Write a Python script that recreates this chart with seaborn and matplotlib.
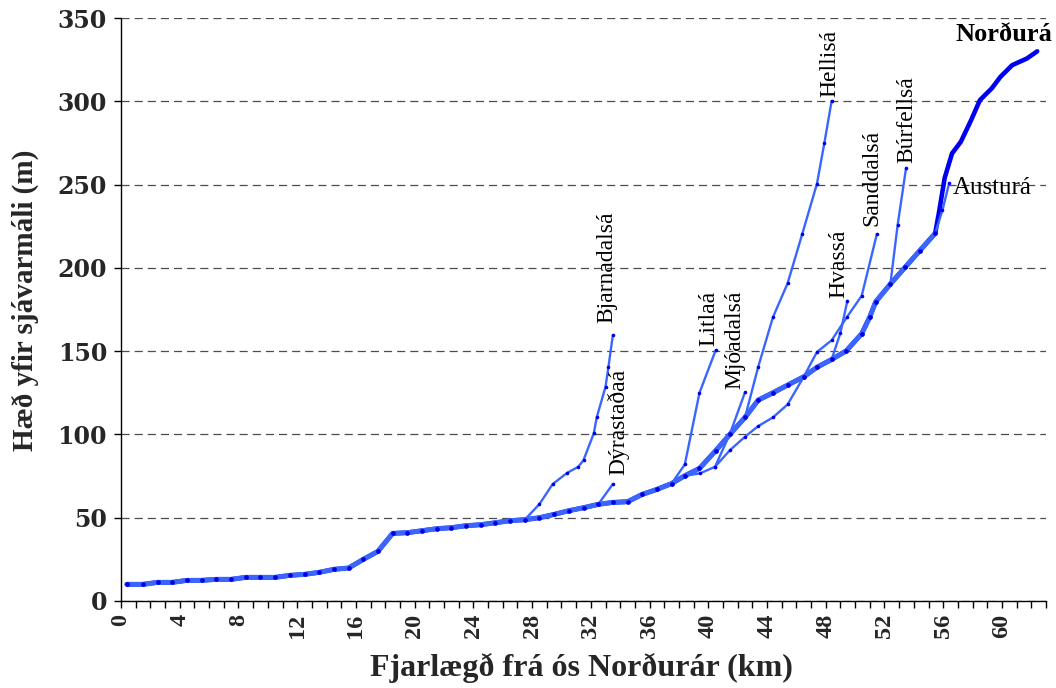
import matplotlib
matplotlib.use("Agg")
import matplotlib.pyplot as plt
import pandas as pd
import seaborn as sns

# Elevation profile of the main river (km from the mouth, metres above sea level)
nordura_km = [0.4, 1.5, 2.5, 3.5, 4.5, 5.5, 6.5, 7.5, 8.5, 9.5, 10.5, 11.5, 12.5, 13.5,
              14.5, 15.5, 16.5, 17.5, 18.5, 19.5, 20.5, 21.5, 22.5, 23.5, 24.5, 25.5,
              26.5, 27.5, 28.5, 29.5, 30.5, 31.5, 32.5, 33.5, 34.5, 35.5, 36.5, 37.5,
              38.4, 39.4, 40.5, 41.5, 42.5, 43.4, 44.4, 45.4, 46.5, 47.4, 48.4, 49.4,
              50.45, 51.0, 51.4, 52.4, 53.4, 54.4, 55.45, 55.7, 56.1, 56.6, 57.2, 57.9,
              58.5, 59.3, 59.9, 60.7, 61.7, 62.4]
nordura_m = [10, 10, 11.2, 11.2, 12.4, 12.4, 13, 13, 14.2, 14.2, 14.2, 15.4, 16, 17.2,
             19, 19.8, 25, 29.8, 40.6, 41, 42.2, 43.4, 44, 45.2, 45.8, 47,
             48.2, 48.8, 50, 52, 54.2, 56, 58, 59.2, 59.6, 64, 67, 70.5,
             75.2, 79.6, 90.2, 100.4, 110.2, 120.6, 125, 129.6, 134.6, 140.3, 145, 150.2,
             160.5, 170.6, 179.6, 190.3, 200.3, 210.3, 220.7, 232.7, 254, 268.7, 275.7, 288.7,
             300.7, 307.7, 314.7, 321.7, 325.7, 330]

# Tributaries, each starting at its confluence
bjarnadalsa_km = [27.5, 28.5, 29.4, 30.4, 31.15, 31.5, 32.2, 32.4, 33.0, 33.2, 33.5]
bjarnadalsa_m = [48.8, 58.2, 70.2, 77, 80.6, 84.6, 100.6, 110.2, 128.6, 140.6, 159.7]

dyrastadaa_km = [32.5, 33.5]
dyrastadaa_m = [58, 70.2]

litlaa_km = [37.5, 38.4, 39.4, 40.5]
litlaa_m = [70.5, 82, 125, 150.5]

sanddalsa_km = [38.4, 39.44, 40.46, 41.48, 42.5, 43.4, 44.4, 45.4, 46.5, 47.4, 48.4,
                49.43, 50.45, 51.48]
sanddalsa_m = [75.2, 76.6, 80.6, 90.6, 98.6, 105, 110.2, 118, 134.6, 149.5, 156.5,
               170.3, 183.3, 220.3]

mjoadalsa_km = [40.46, 41.48, 42.5]
mjoadalsa_m = [80.6, 100.5, 125.3]

hellisa_km = [42.5, 43.4, 44.4, 45.4, 46.4, 47.4, 47.9, 48.4]
hellisa_m = [110.2, 140.6, 170.3, 190.7, 220.4, 250.5, 274.7, 300.2]

hvassa_km = [48.4, 49.0, 49.47]
hvassa_m = [145, 161, 180.2]

burfellsa_km = [52.4, 52.9, 53.47]
burfellsa_m = [190.3, 226, 260]

austura_km = [55.45, 55.95, 56.4]
austura_m = [220.7, 234.7, 250.7]

tributary_names = ["Bjarnadalsá", "Dýrastaðaá", "Litlaá", "Mjóadalsá", "Hellisá",
                   "Hvassá", "Sanddalsá", "Búrfellsá", "Austurá"]

x_ticks = list(range(0, 64))
x_tick_labels = [str(v) if v % 4 == 0 else "" for v in x_ticks]
y_ticks = [0, 50, 100, 150, 200, 250, 300, 350]

# ---------------------------------------------------------------------------
sns.set_theme(style="white")
plt.rcParams["font.family"] = ["Liberation Serif", "DejaVu Serif"]

LIGHT = "#3a66ff"
DARK = "#0000f0"
DOT = "#0000e6"

main = pd.DataFrame({"km": nordura_km, "m": nordura_m})
tribs = {
    "Bjarnadalsá": (bjarnadalsa_km, bjarnadalsa_m),
    "Dýrastaðaá": (dyrastadaa_km, dyrastadaa_m),
    "Litlaá": (litlaa_km, litlaa_m),
    "Mjóadalsá": (mjoadalsa_km, mjoadalsa_m),
    "Hellisá": (hellisa_km, hellisa_m),
    "Hvassá": (hvassa_km, hvassa_m),
    "Sanddalsá": (sanddalsa_km, sanddalsa_m),
    "Búrfellsá": (burfellsa_km, burfellsa_m),
    "Austurá": (austura_km, austura_m),
}

# label placement relative to each river's upper end (pixels)
label_style = {
    "Bjarnadalsá": dict(dx=-6, dy=12, rot=90),
    "Dýrastaðaá": dict(dx=5, dy=9, rot=90),
    "Litlaá": dict(dx=-7, dy=4, rot=90),
    "Mjóadalsá": dict(dx=-10, dy=3, rot=90),
    "Hellisá": dict(dx=-2, dy=4, rot=90),
    "Hvassá": dict(dx=-8, dy=3, rot=90),
    "Sanddalsá": dict(dx=-5, dy=8, rot=90),
    "Búrfellsá": dict(dx=1, dy=5, rot=90),
    "Austurá": dict(dx=4, dy=-5, rot=0),
}

fig = plt.figure(figsize=(10.56, 6.88), dpi=100)
ax = fig.add_axes([121 / 1056, 87 / 688, 925 / 1056, 583 / 688])

# grid first so the profiles sit above it
ax.set_axisbelow(True)
ax.yaxis.grid(True, color="#4d4d4d", linestyle=(0, (6.5, 4)), linewidth=0.9)

# full main stem (upper reach shows in the darker colour)
sns.lineplot(data=main, x="km", y="m", ax=ax, color=DARK, linewidth=3.3,
             estimator=None, sort=False, zorder=3)

# tributaries
for name in tributary_names:
    km, m = tribs[name]
    sns.lineplot(x=km, y=m, ax=ax, color=LIGHT, linewidth=1.7, estimator=None,
                 sort=False, marker="o", markersize=2.6, markerfacecolor=DOT,
                 markeredgecolor=DOT, markeredgewidth=0, zorder=4)

# lower main stem shared with the tributary profiles
trunk = main[main["km"] <= austura_km[0]]
sns.lineplot(data=trunk, x="km", y="m", ax=ax, color=LIGHT, linewidth=3.6,
             estimator=None, sort=False, marker="o", markersize=3.4,
             markerfacecolor=DOT, markeredgecolor=DOT, markeredgewidth=0, zorder=5)

# river names
for name in tributary_names:
    km, m = tribs[name]
    st = label_style[name]
    if st["rot"] == 90:
        ax.annotate(name, xy=(km[-1], m[-1]), xytext=(st["dx"], st["dy"]),
                    textcoords="offset pixels", rotation=90, ha="center", va="bottom",
                    fontsize=17, color="black", zorder=6)
    else:
        ax.annotate(name, xy=(km[-1], m[-1]), xytext=(st["dx"], st["dy"]),
                    textcoords="offset pixels", rotation=0, ha="left", va="center",
                    fontsize=18, color="black", zorder=6)
ax.annotate("Norðurá", xy=(nordura_km[-1], nordura_m[-1]), xytext=(15, 17),
            textcoords="offset pixels", ha="right", va="center", fontsize=19,
            fontweight="bold", color="black", zorder=6)

# axes
ax.set_xlim(0, 63)
ax.set_ylim(0, 350)
ax.set_xticks(x_ticks, x_tick_labels, rotation=90, fontsize=17.5, fontweight="bold",
              family=["Liberation Serif"])
ax.set_yticks(y_ticks, [str(v) for v in y_ticks], fontsize=17, fontweight="bold",
              family=["DejaVu Serif"])

for s in ("top", "right"):
    ax.spines[s].set_visible(False)
for s in ("left", "bottom"):
    ax.spines[s].set_color("black")
    ax.spines[s].set_linewidth(1.0)

ax.tick_params(axis="x", direction="out", length=5, width=1.0, color="black",
               pad=4, bottom=True)
ax.tick_params(axis="y", direction="out", length=5, width=1.0, color="black",
               pad=5, left=True)

ax.set_xlabel("Fjarlægð frá ós Norðurár (km)", fontsize=23, fontweight="bold")
ax.set_ylabel("Hæð yfir sjávarmáli (m)", fontsize=21, fontweight="bold")
ax.xaxis.label.set_va("center")
ax.yaxis.label.set_va("center")
ax.xaxis.set_label_coords(0.498, -0.115)
ax.yaxis.set_label_coords(-0.104, 0.516)

fig.savefig("out.png", dpi=100)
